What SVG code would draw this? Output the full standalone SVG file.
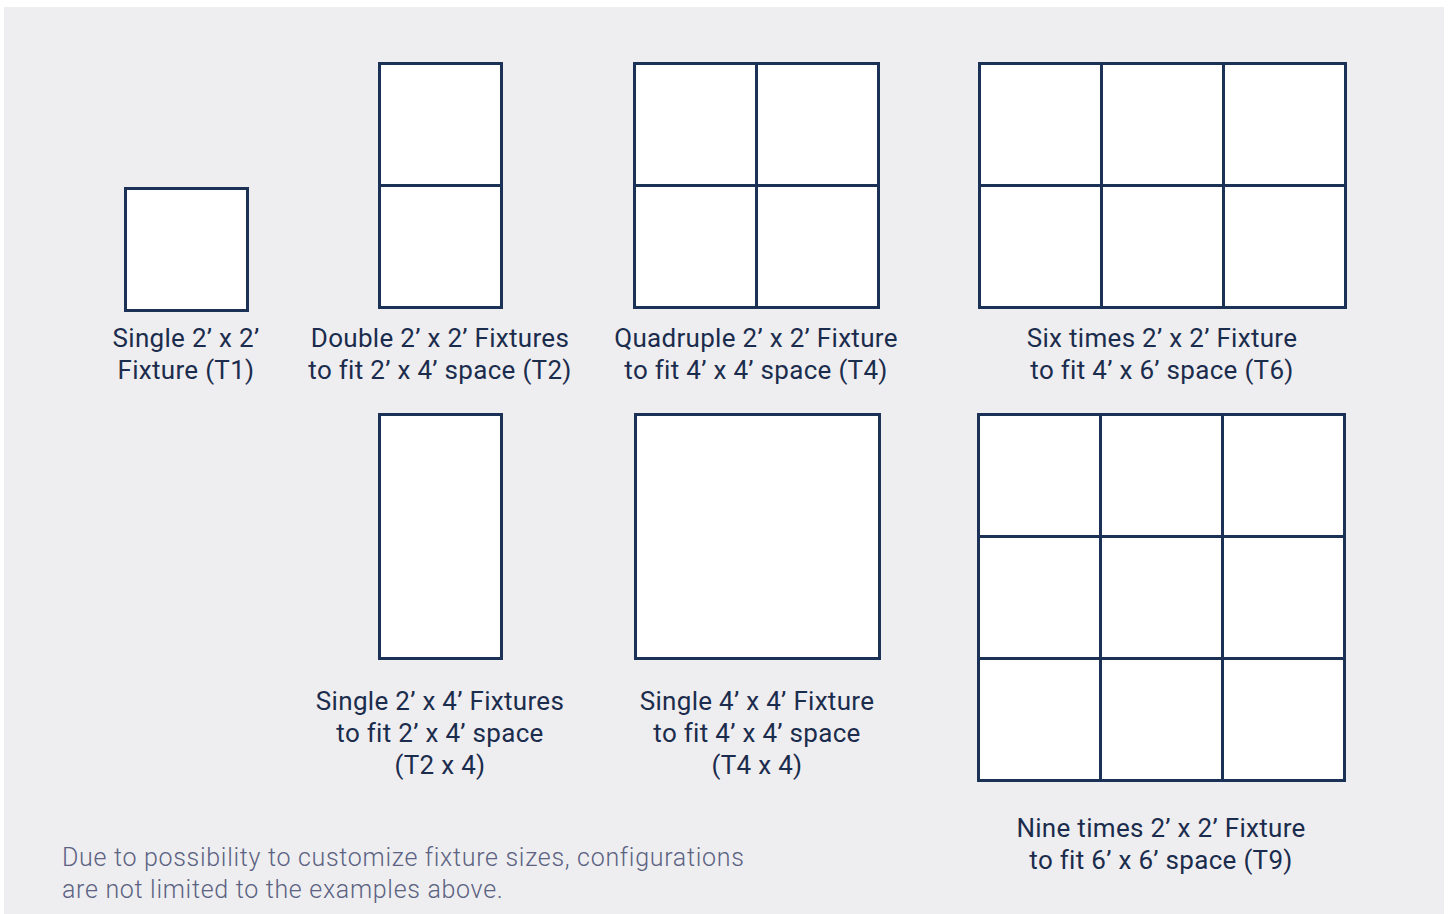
<svg xmlns="http://www.w3.org/2000/svg" width="1450" height="914" viewBox="0 0 1450 914">
<style>
.bg{fill:#eeeef0}
.box{fill:#ffffff;stroke:#1b3156;stroke-width:3}
.ln{stroke:#1b3156;stroke-width:3;fill:none}
.lbl{font-family:Roboto,"Liberation Sans",sans-serif;font-size:26px;letter-spacing:0.3px;fill:#1b2c4d;text-anchor:middle}
.note{font-family:Roboto,"Liberation Sans",sans-serif;font-weight:300;font-size:25px;letter-spacing:0.7px;fill:#5b6282}
</style>
<rect x="0" y="0" width="1450" height="914" fill="#ffffff"/>
<rect class="bg" x="4" y="7" width="1440" height="907"/>
<g id="t1">
<rect class="box" x="125.5" y="188.5" width="122" height="122"/>
<text class="lbl" x="186" y="347">Single 2’ x 2’</text>
<text class="lbl" x="186" y="379">Fixture (T1)</text>
</g>
<g id="t2">
<rect class="box" x="379.5" y="63.5" width="122" height="244"/>
<line class="ln" x1="379.5" y1="185.5" x2="501.5" y2="185.5"/>
<text class="lbl" x="440" y="347">Double 2’ x 2’ Fixtures</text>
<text class="lbl" x="440" y="379">to fit 2’ x 4’ space (T2)</text>
</g>
<g id="t4">
<rect class="box" x="634.5" y="63.5" width="244" height="244"/>
<line class="ln" x1="756.5" y1="63.5" x2="756.5" y2="307.5"/>
<line class="ln" x1="634.5" y1="185.5" x2="878.5" y2="185.5"/>
<text class="lbl" x="756" y="347">Quadruple 2’ x 2’ Fixture</text>
<text class="lbl" x="756" y="379">to fit 4’ x 4’ space (T4)</text>
</g>
<g id="t6">
<rect class="box" x="979.5" y="63.5" width="366" height="244"/>
<line class="ln" x1="1101.5" y1="63.5" x2="1101.5" y2="307.5"/>
<line class="ln" x1="1223.5" y1="63.5" x2="1223.5" y2="307.5"/>
<line class="ln" x1="979.5" y1="185.5" x2="1345.5" y2="185.5"/>
<text class="lbl" x="1162" y="347">Six times 2’ x 2’ Fixture</text>
<text class="lbl" x="1162" y="379">to fit 4’ x 6’ space (T6)</text>
</g>
<g id="t2x4">
<rect class="box" x="379.5" y="414.5" width="122" height="244"/>
<text class="lbl" x="440" y="710">Single 2’ x 4’ Fixtures</text>
<text class="lbl" x="440" y="742">to fit 2’ x 4’ space</text>
<text class="lbl" x="440" y="774">(T2 x 4)</text>
</g>
<g id="t4x4">
<rect class="box" x="635.5" y="414.5" width="244" height="244"/>
<text class="lbl" x="757" y="710">Single 4’ x 4’ Fixture</text>
<text class="lbl" x="757" y="742">to fit 4’ x 4’ space</text>
<text class="lbl" x="757" y="774">(T4 x 4)</text>
</g>
<g id="t9">
<rect class="box" x="978.5" y="414.5" width="366" height="366"/>
<line class="ln" x1="1100.5" y1="414.5" x2="1100.5" y2="780.5"/>
<line class="ln" x1="1222.5" y1="414.5" x2="1222.5" y2="780.5"/>
<line class="ln" x1="978.5" y1="536.5" x2="1344.5" y2="536.5"/>
<line class="ln" x1="978.5" y1="658.5" x2="1344.5" y2="658.5"/>
<text class="lbl" x="1161" y="837">Nine times 2’ x 2’ Fixture</text>
<text class="lbl" x="1161" y="869">to fit 6’ x 6’ space (T9)</text>
</g>
<g id="connectors"></g>
<g id="note">
<text class="note" x="62" y="866">Due to possibility to customize fixture sizes, configurations</text>
<text class="note" x="62" y="898">are not limited to the examples above.</text>
</g>
</svg>
